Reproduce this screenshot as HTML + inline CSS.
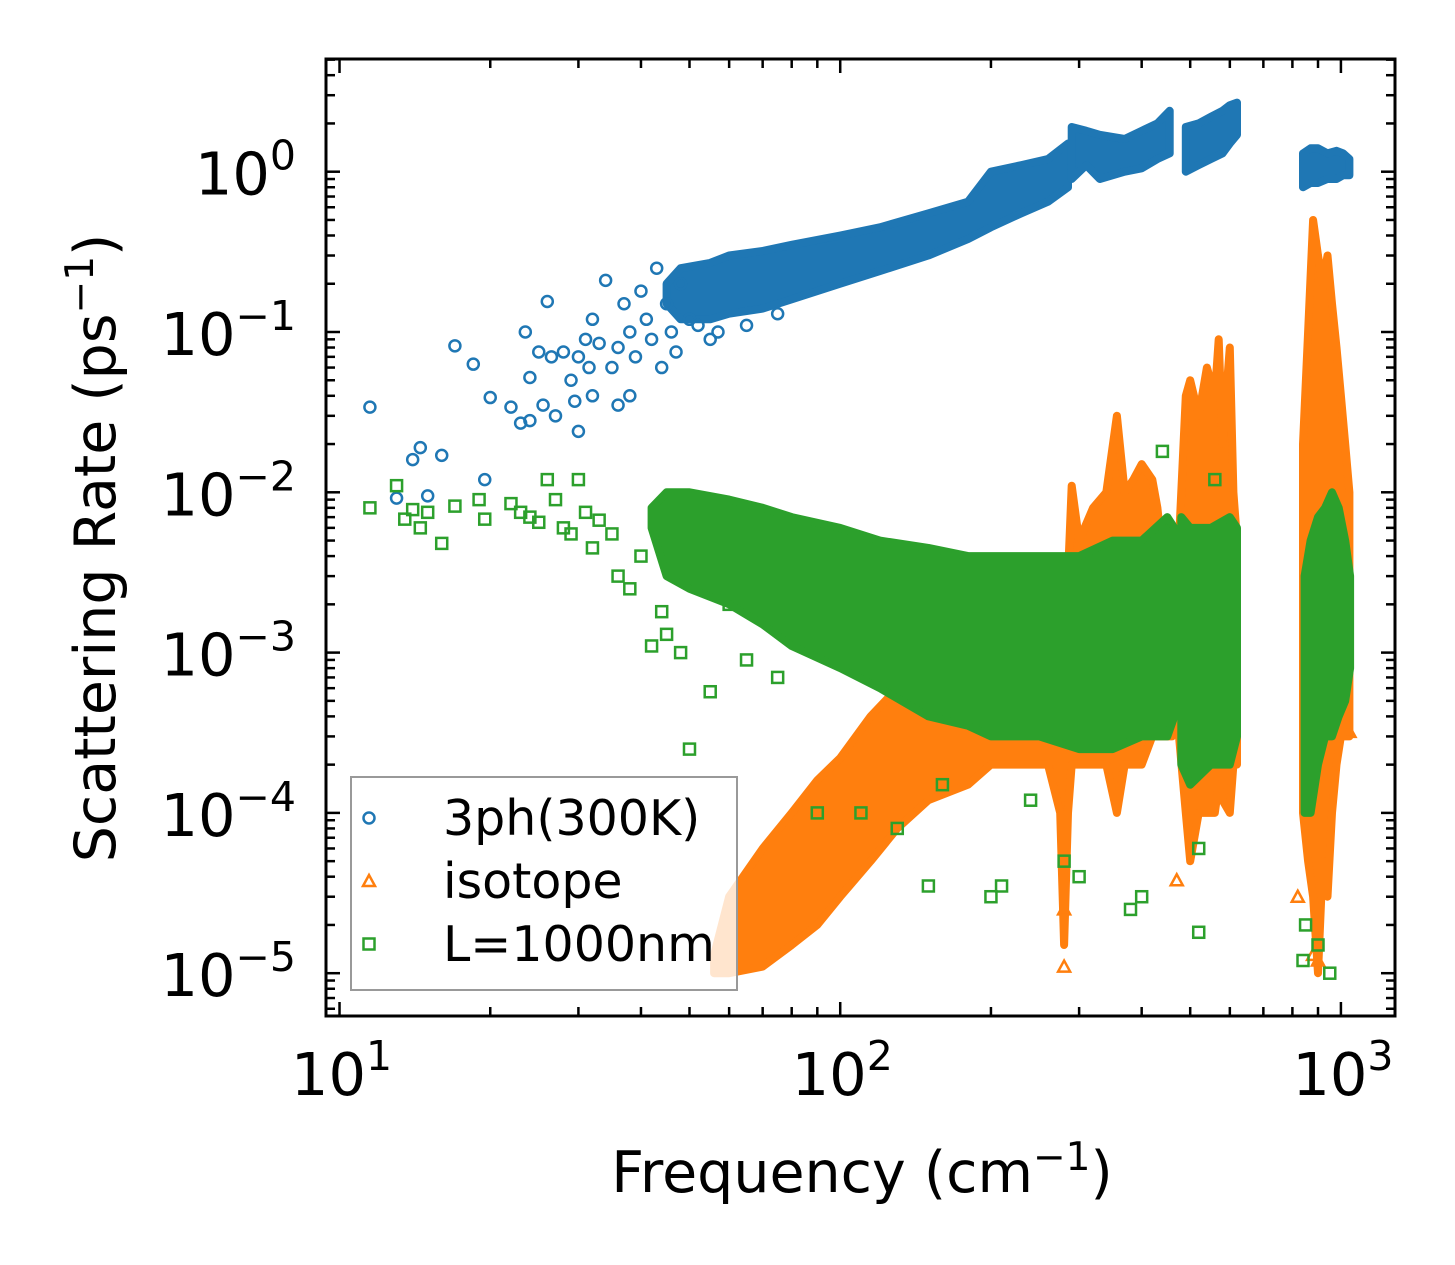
<!DOCTYPE html>
<html><head><meta charset="utf-8"><style>
body{margin:0;background:#fff}
svg{display:block;font-family:"DejaVu Sans","Liberation Sans",sans-serif}
</style></head><body>
<svg id="chart" width="1455" height="1265" viewBox="0 0 1455 1265" xmlns="http://www.w3.org/2000/svg">
<rect width="1455" height="1265" fill="#fff"/>
<g id="marks"></g>
<g id="axes"></g>
<text x="862" y="1192" font-size="57" text-anchor="middle">Frequency (cm<tspan dy="-22" font-size="39">−1</tspan><tspan dy="22">)</tspan></text>
<text transform="translate(115,548) rotate(-90)" font-size="57" text-anchor="middle">Scattering Rate (ps<tspan dy="-22" font-size="39">−1</tspan><tspan dy="22">)</tspan></text>
<g>
<rect x="351" y="777" width="386" height="213" fill="#fff" fill-opacity="0.8" stroke="#999" stroke-width="2"/>
<g><circle cx="369" cy="818" r="5.5" fill="none" stroke="#1f77b4" stroke-width="2.5"/><text x="443" y="835" font-size="49">3ph(300K)</text></g>
<g><path d="M363,886 L375,886 L369,875 Z" fill="none" stroke="#ff7f0e" stroke-width="2.5"/><text x="443" y="898" font-size="49">isotope</text></g>
<g><rect x="363.5" y="938.5" width="11" height="11" fill="none" stroke="#2ca02c" stroke-width="2.5"/><text x="443" y="961" font-size="49">L=1000nm</text></g>
</g>
</svg>
<script>
const blueBandX=[[45,48,55,60,70,80,100,120,150,180,200,230,260,285],[290,310,330,370,400,430,455],[490,520,550,580,600,620],[840,870,900,940,980,1010,1040]];
const blueBandLo=[[0.15,0.12,0.12,0.13,0.14,0.16,0.2,0.24,0.3,0.38,0.45,0.55,0.65,0.8],[0.9,1.1,0.9,1.0,1.05,1.2,1.3],[1.0,1.1,1.2,1.3,1.5,1.7],[0.8,0.85,0.85,0.9,0.9,0.95,0.95]];
const blueBandHi=[[0.2,0.25,0.27,0.3,0.32,0.35,0.4,0.45,0.55,0.65,1.0,1.1,1.2,1.5],[1.9,1.8,1.7,1.6,1.8,2.0,2.4],[1.9,2.0,2.2,2.4,2.6,2.7],[1.3,1.4,1.4,1.3,1.35,1.3,1.2]];
const blueX=[11.5,13,14,14.5,15,16,17,18.5,19.5,20,22,23,23.5,24,24,25,25.5,26,26.5,27,28,29,29.5,30,30,31,31.5,32,32,33,34,35,36,36,37,38,38,39,40,41,42,43,44,45,46,47,48,50,52,55,57,65,75];
const blueY=[0.034,0.0092,0.016,0.019,0.0095,0.017,0.082,0.063,0.012,0.039,0.034,0.027,0.1,0.052,0.028,0.075,0.035,0.155,0.07,0.03,0.075,0.05,0.037,0.07,0.024,0.09,0.06,0.12,0.04,0.085,0.21,0.06,0.08,0.035,0.15,0.1,0.04,0.07,0.18,0.12,0.09,0.25,0.06,0.15,0.1,0.075,0.2,0.12,0.11,0.09,0.1,0.11,0.13];
const orangeBandX=[[56,60,70,80,90,100,115,130,150,180,200,230,260,275,280,285,290,300,320,340,357,370,385,400,420,430,440,460],[475,490,500,520,540,560,570,580,600,610,620],[840,860,880,900,920,940,960,980,1000,1020,1040]];
const orangeBandLo=[[1e-5,1e-5,1.1e-5,1.5e-5,2e-5,3e-5,5e-5,8e-5,1.2e-4,1.5e-4,2e-4,2e-4,2e-4,1e-4,1.5e-5,1e-4,2e-4,2e-4,2e-4,2e-4,1e-4,2e-4,2e-4,2e-4,3e-4,3e-4,3e-4,3e-4],[3e-4,1e-4,5e-5,1e-4,1e-4,1e-4,1.5e-4,1.2e-4,1e-4,2e-4,2e-4],[1e-4,5e-5,3e-5,1e-5,5e-5,3e-5,1e-4,2e-4,3e-4,3e-4,3e-4]];
const orangeBandHi=[[1.3e-5,3e-5,6e-5,1e-4,1.6e-4,2.2e-4,4e-4,6e-4,1e-3,1.5e-3,2e-3,2.5e-3,3e-3,3e-3,3e-3,3e-3,1.1e-2,5e-3,8e-3,1e-2,3e-2,1e-2,1.2e-2,1.5e-2,1.2e-2,8e-3,4e-3,4e-3],[5e-3,4e-2,5e-2,3e-2,6e-2,4e-2,9e-2,2e-2,8e-2,1e-2,5e-3],[2e-2,1e-1,5e-1,3e-1,2e-1,3e-1,1.5e-1,8e-2,4e-2,2e-2,1e-2]];
const orangeX=[280,280,470,820,1040,880,900];
const orangeY=[1.1e-5,2.5e-5,3.8e-5,3e-5,3.2e-4,1.3e-5,1.2e-5];
const greenBandX=[[42,45,50,60,70,80,100,120,150,180,200,250,300,350,400,450,465],[480,500,550,600,620],[846,870,900,930,960,990,1020,1043]];
const greenBandLo=[[6e-3,3e-3,2.5e-3,2e-3,1.5e-3,1.1e-3,8e-4,6e-4,4e-4,3.5e-4,3e-4,3e-4,2.5e-4,2.5e-4,3e-4,3e-4,4e-4],[2e-4,1.5e-4,2e-4,2e-4,3e-4],[1e-4,1e-4,2e-4,3e-4,3e-4,4e-4,5e-4,8e-4]];
const greenBandHi=[[8e-3,1e-2,1e-2,9e-3,8e-3,7e-3,6e-3,5e-3,4.5e-3,4e-3,4e-3,4e-3,4e-3,5e-3,5e-3,7e-3,6e-3],[7e-3,6e-3,6e-3,7e-3,6e-3],[3e-3,5e-3,7e-3,8e-3,1e-2,8e-3,5e-3,3e-3]];
const greenX=[11.5,13,13.5,14,14.5,15,16,17,19,19.5,22,23,24,25,26,27,28,29,30,31,32,33,35,36,38,40,42,44,45,48,50,55,60,65,75,90,110,130,150,200,210,280,300,380,400,440,520,560,520,840,850,950,900,160,240];
const greenY=[0.008,0.011,0.0068,0.0078,0.006,0.0075,0.0048,0.0082,0.009,0.0068,0.0085,0.0075,0.007,0.0065,0.012,0.009,0.006,0.0055,0.012,0.0075,0.0045,0.0067,0.0055,0.003,0.0025,0.004,0.0011,0.0018,0.0013,0.001,0.00025,0.00057,0.002,0.0009,0.0007,0.0001,0.0001,0.00008,0.000035,0.00003,0.000035,0.00005,0.00004,0.000025,0.00003,0.018,0.000018,0.012,0.00006,0.000012,0.00002,0.00001,0.000015,0.00015,0.00012];
const xTicks=[1,2,3];
const yTicks=[0,-1,-2,-3,-4,-5];

const NS='http://www.w3.org/2000/svg';
const X0=326,X1=1395,Y0=59,Y1=1016,XLMIN=0.973,XD=500.7,Y10=171.7,YD=160.3;
function sx(v){return X0+(Math.log10(v)-XLMIN)*XD;}
function sy(v){return Y10-Math.log10(v)*YD;}
const marks=document.getElementById('marks'),axes=document.getElementById('axes');
function mk(tag,attrs,parent){const e=document.createElementNS(NS,tag);for(const k in attrs)e.setAttribute(k,attrs[k]);parent.appendChild(e);return e;}
function band(xs,lo,hi,color,name){
  let pts=xs.map((x,i)=>sx(x).toFixed(1)+','+sy(hi[i]).toFixed(1));
  for(let i=xs.length-1;i>=0;i--)pts.push(sx(xs[i]).toFixed(1)+','+sy(lo[i]).toFixed(1));
  const p=mk('polygon',{points:pts.join(' '),fill:color,stroke:color,'stroke-width':8,'stroke-linejoin':'round'},marks);
  
  
}
function pts(xs,ys,color,shape,name){
  xs.forEach((x,i)=>{const cx=sx(x),cy=sy(ys[i]);let e;
    if(shape==='c')e=mk('circle',{cx:cx,cy:cy,r:5.5,fill:'none',stroke:color,'stroke-width':2.5},marks);
    else if(shape==='t')e=mk('path',{d:`M${cx-6},${cy+5} L${cx+6},${cy+5} L${cx},${cy-6} Z`,fill:'none',stroke:color,'stroke-width':2.5},marks);
    else e=mk('rect',{x:cx-5.5,y:cy-5.5,width:11,height:11,fill:'none',stroke:color,'stroke-width':2.5},marks);
    
    
  });
}
blueBandX.forEach((xs,i)=>band(xs,blueBandLo[i],blueBandHi[i],'#1f77b4','3ph-band'));
pts(blueX,blueY,'#1f77b4','c','3ph-point');
orangeBandX.forEach((xs,i)=>band(xs,orangeBandLo[i],orangeBandHi[i],'#ff7f0e','isotope-band'));
pts(orangeX,orangeY,'#ff7f0e','t','isotope-point');
greenBandX.forEach((xs,i)=>band(xs,greenBandLo[i],greenBandHi[i],'#2ca02c','boundary-band'));
pts(greenX,greenY,'#2ca02c','s','boundary-point');

const fr=mk('rect',{x:X0,y:Y0,width:X1-X0,height:Y1-Y0,fill:'none',stroke:'#000','stroke-width':3},axes);


for(let d=1;d<=3;d++){for(let m=1;m<10;m++){const v=m*Math.pow(10,d);const x=sx(v);if(x<X0||x>X1)continue;const L=m===1?14:9;
  mk('line',{x1:x,x2:x,y1:Y1,y2:Y1-L,stroke:'#000','stroke-width':2.5},axes);
  mk('line',{x1:x,x2:x,y1:Y0,y2:Y0+L,stroke:'#000','stroke-width':2.5},axes);}}
for(let d=-6;d<=0;d++){for(let m=1;m<10;m++){const v=m*Math.pow(10,d);const y=sy(v);if(y<Y0||y>Y1)continue;const L=m===1?14:9;
  mk('line',{x1:X0,x2:X0+L,y1:y,y2:y,stroke:'#000','stroke-width':2.5},axes);
  mk('line',{x1:X1,x2:X1-L,y1:y,y2:y,stroke:'#000','stroke-width':2.5},axes);}}
xTicks.forEach(d=>{const t=mk('text',{x:sx(Math.pow(10,d))+2,y:1095,'font-size':59,'text-anchor':'middle'},axes);
  
  
  t.innerHTML='10<tspan dy="-25" font-size="41">'+d+'</tspan>';});
yTicks.forEach(d=>{const t=mk('text',{x:296,y:sy(Math.pow(10,d))+23,'font-size':59,'text-anchor':'end'},axes);
  
  
  t.innerHTML='10<tspan dy="-25" font-size="41">'+(d===0?'0':'−'+(-d))+'</tspan>';});
</script>
</body></html>
